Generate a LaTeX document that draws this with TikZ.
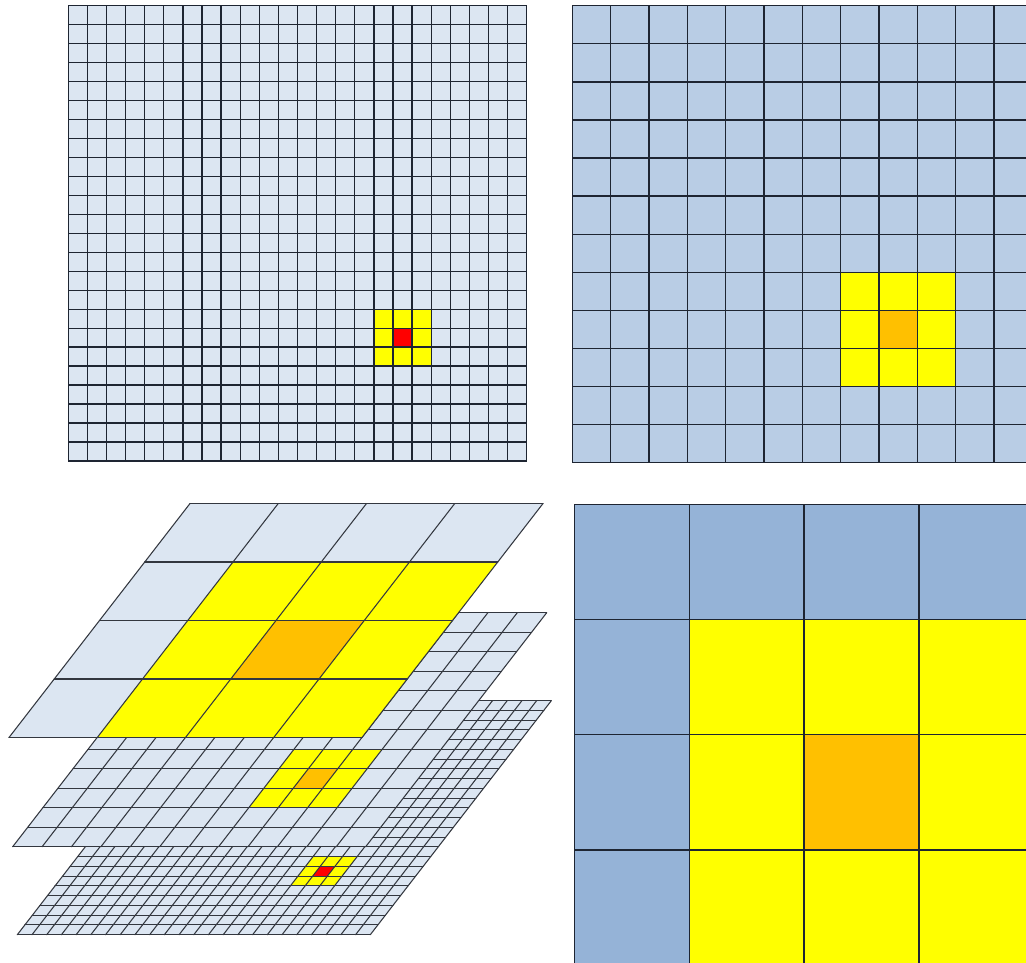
\documentclass[tikz,border=0pt]{standalone}
\definecolor{cA}{HTML}{DCE6F2}
\definecolor{cB}{HTML}{B9CDE5}
\definecolor{cC}{HTML}{95B3D7}
\definecolor{yel}{HTML}{FFFF00}
\definecolor{org}{HTML}{FFC000}
\definecolor{rd}{HTML}{FF0000}
\definecolor{lnD}{HTML}{1E2532}
\definecolor{lnL}{HTML}{33373F}
\tikzset{
  flatln/.style={draw=lnD,line width=1.35pt},
  layln/.style={draw=lnL,line width=1.05pt,line cap=round},
}
\begin{document}
\begin{tikzpicture}[x=1pt,y=-1pt]
\clip (0,0) rectangle (1026,963);
\fill[white] (0,0) rectangle (1026,963);

% ---------- top-left 24x24 grid ----------
\begin{scope}[shift={(68.3,5.7)}]
  \fill[cA] (0,0) rectangle (458.4,455.3);
  \fill[yel] (16*19.1,16*18.97) rectangle (19*19.1,19*18.97);
  \fill[rd] (17*19.1,17*18.97) rectangle (18*19.1,18*18.97);
  \foreach \i in {0,...,24} {
    \draw[flatln] (\i*19.1,0) -- (\i*19.1,455.3);
    \draw[flatln] (0,\i*18.97) -- (458.4,\i*18.97);
  }
\end{scope}

% ---------- top-right 12x12 grid ----------
\begin{scope}[shift={(572.3,5.7)}]
  \fill[cB] (0,0) rectangle (12*38.33,12*38.08);
  \fill[yel] (7*38.33,7*38.08) rectangle (10*38.33,10*38.08);
  \fill[org] (8*38.33,8*38.08) rectangle (9*38.33,9*38.08);
  \foreach \i in {0,...,12} {
    \draw[flatln] (\i*38.33,0) -- (\i*38.33,12*38.08);
    \draw[flatln] (0,\i*38.08) -- (12*38.33,\i*38.08);
  }
\end{scope}

% ---------- bottom-right 4x4 grid ----------
\begin{scope}[shift={(574.3,504.3)}]
  \fill[cC] (0,0) rectangle (4*114.9,4*115.2);
  \fill[yel] (1*114.9,1*115.2) rectangle (4*114.9,4*115.2);
  \fill[org] (2*114.9,2*115.2) rectangle (3*114.9,3*115.2);
  \foreach \i in {0,...,4} {
    \draw[flatln] (\i*114.9,0) -- (\i*114.9,4*115.2);
    \draw[flatln] (0,\i*115.2) -- (4*114.9,\i*115.2);
  }
\end{scope}

% ---------- bottom-left stacked layers ----------
% bottom layer 24x24
\begin{scope}[shift={(198.3,700.7)},xslant=0.7735]
  \fill[cA] (0,0) rectangle (353,234);
  \fill[yel] (16*353/24,16*234/24) rectangle (19*353/24,19*234/24);
  \fill[rd] (17*353/24,17*234/24) rectangle (18*353/24,18*234/24);
  \foreach \i in {0,...,24} {
    \draw[layln] (\i*353/24,0) -- (\i*353/24,234);
    \draw[layln] (0,\i*234/24) -- (353,\i*234/24);
  }
\end{scope}
% middle layer 12x12
\begin{scope}[shift={(193.7,612.7)},xslant=0.7735]
  \fill[cA] (0,0) rectangle (353,234);
  \fill[yel] (7*353/12,7*234/12) rectangle (10*353/12,10*234/12);
  \fill[org] (8*353/12,8*234/12) rectangle (9*353/12,9*234/12);
  \foreach \i in {0,...,12} {
    \draw[layln] (\i*353/12,0) -- (\i*353/12,234);
    \draw[layln] (0,\i*234/12) -- (353,\i*234/12);
  }
\end{scope}
% top layer 4x4
\begin{scope}[shift={(190,503.5)},xslant=0.7735]
  \fill[cA] (0,0) rectangle (353,234);
  \fill[yel] (1*353/4,1*234/4) rectangle (4*353/4,4*234/4);
  \fill[org] (2*353/4,2*234/4) rectangle (3*353/4,3*234/4);
  \foreach \i in {0,...,4} {
    \draw[layln] (\i*353/4,0) -- (\i*353/4,234);
    \draw[layln] (0,\i*234/4) -- (353,\i*234/4);
  }
\end{scope}
\end{tikzpicture}
\end{document}
